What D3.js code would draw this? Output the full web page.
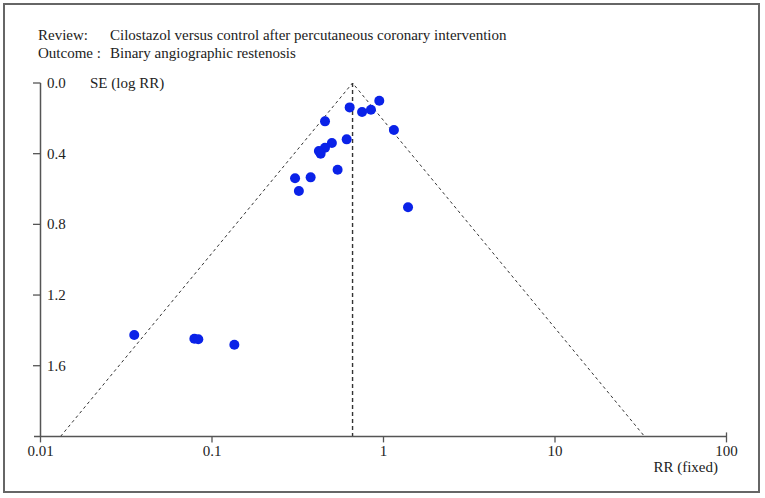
<!DOCTYPE html>
<html>
<head>
<meta charset="utf-8">
<script src="https://cdn.jsdelivr.net/npm/d3@7"></script>
<style>
  html, body { margin: 0; padding: 0; background: #fff; }
  svg { display: block; }
  text { font-family: "Liberation Serif", "DejaVu Serif", serif; fill: #222; }
</style>
</head>
<body>
<svg id="chart" width="765" height="498"></svg>
<script>
// ---- data ----
const studyRR = [0.635, 0.75, 0.845, 0.945, 0.456, 1.15, 0.61, 0.50, 0.456, 0.42, 0.43, 0.54, 0.305, 0.376, 0.321, 1.39, 0.0352, 0.0789, 0.0832, 0.135];
const studySE = [0.138, 0.164, 0.151, 0.100, 0.217, 0.266, 0.319, 0.340, 0.366, 0.385, 0.400, 0.491, 0.539, 0.534, 0.611, 0.703, 1.426, 1.447, 1.450, 1.481];
const pooledRR = 0.66;
const xTicks = [0.01, 0.1, 1, 10, 100];
const xTickLabels = ["0.01", "0.1", "1", "10", "100"];
const yTicks = [0.0, 0.4, 0.8, 1.2, 1.6];
const yTickLabels = ["0.0", "0.4", "0.8", "1.2", "1.6"];
const titleLabels = ["Review:", "Outcome :"];
const titleTexts = ["Cilostazol versus control after percutaneous coronary intervention", "Binary angiographic restenosis"];
const yAxisTitle = "SE (log RR)";
const xAxisTitle = "RR (fixed)";

// ---- drawing ----
const svg = d3.select("#chart");
const axisColor = "#555";
const fs = 15;

svg.append("rect")
  .attr("x", 4).attr("y", 4).attr("width", 755).attr("height", 488)
  .attr("fill", "none").attr("stroke", "#666").attr("stroke-width", 2);

const x = d3.scaleLog().domain([0.01, 100]).range([40.5, 726.5]);
const y = d3.scaleLinear().domain([0, 2]).range([83, 436.4]);

// titles
titleLabels.forEach((t, i) => {
  svg.append("text").attr("x", 38).attr("y", 40 + i * 18).attr("font-size", fs).text(t);
  svg.append("text").attr("x", 110).attr("y", 40 + i * 18).attr("font-size", fs).text(titleTexts[i]);
});

// funnel
const z = 1.96;
const seMax = 2;
const lp = Math.log(pooledRR);
const funnel = [
  [Math.exp(lp - z * seMax), seMax],
  [pooledRR, 0],
  [Math.exp(lp + z * seMax), seMax]
];
svg.append("path")
  .attr("d", d3.line().x(d => x(d[0])).y(d => y(d[1]))(funnel))
  .attr("fill", "none").attr("stroke", "#333").attr("stroke-width", 1)
  .attr("stroke-dasharray", "3,3");
svg.append("line")
  .attr("x1", x(pooledRR)).attr("x2", x(pooledRR))
  .attr("y1", y(0)).attr("y2", y(seMax))
  .attr("stroke", "#333").attr("stroke-width", 1.4)
  .attr("stroke-dasharray", "4,3");

// y axis
svg.append("line")
  .attr("x1", 40.5).attr("x2", 40.5).attr("y1", y(0)).attr("y2", y(2))
  .attr("stroke", axisColor).attr("stroke-width", 1.5);
yTicks.forEach((v, i) => {
  svg.append("line").attr("x1", 33).attr("x2", 40.5).attr("y1", y(v)).attr("y2", y(v))
    .attr("stroke", axisColor).attr("stroke-width", 1.3);
  svg.append("text").attr("x", 47).attr("y", y(v) + 5).attr("font-size", fs).text(yTickLabels[i]);
});
svg.append("text").attr("x", 90).attr("y", y(0) + 5).attr("font-size", fs).text(yAxisTitle);

// x axis
svg.append("line")
  .attr("x1", 34).attr("x2", 726.5).attr("y1", y(2)).attr("y2", y(2))
  .attr("stroke", axisColor).attr("stroke-width", 1.5);
xTicks.forEach((v, i) => {
  svg.append("line").attr("x1", x(v)).attr("x2", x(v)).attr("y1", y(2) - (i === 4 ? 4 : 0)).attr("y2", y(2) + 6)
    .attr("stroke", axisColor).attr("stroke-width", 1.3);
  svg.append("text").attr("x", x(v)).attr("y", 456).attr("font-size", fs)
    .attr("text-anchor", "middle").text(xTickLabels[i]);
});
svg.append("text").attr("x", 718).attr("y", 472).attr("font-size", fs)
  .attr("text-anchor", "end").text(xAxisTitle);

// points
svg.append("g").selectAll("circle")
  .data(studyRR.map((r, i) => [r, studySE[i]]))
  .join("circle")
  .attr("cx", d => x(d[0])).attr("cy", d => y(d[1])).attr("r", 5)
  .attr("fill", "#0a22e8");
</script>
</body>
</html>
